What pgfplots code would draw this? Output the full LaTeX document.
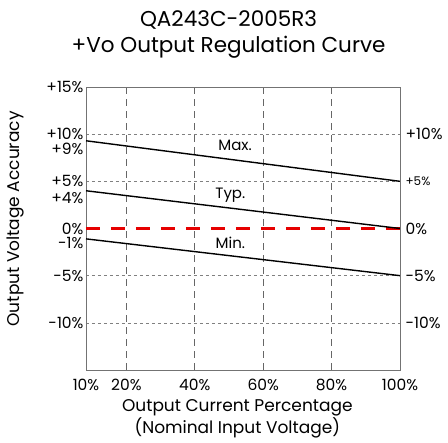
\documentclass[border=0pt]{standalone}
\usepackage{fontspec}
\setmainfont{Poppins}
\usepackage{pgfplots}
\pgfplotsset{compat=1.18}
\definecolor{myred}{RGB}{230,0,0}
\begin{document}
\begin{tikzpicture}
\begin{axis}[
  name=main,
  scale only axis, width=314pt, height=283pt,
  xmin=8.2, xmax=100, ymin=-15, ymax=15,
  axis line style={draw=black!55, line width=0.8pt},
  major tick length=0pt,
  /pgf/number format/assume math mode=true,
  ticklabel style={font=\fontsize{15.5}{17}\selectfont},
  xtick={20,40,60,80}, xticklabels={20\%,40\%,60\%,80\%},
  extra x ticks={8.2,100}, extra x tick labels={10\%,100\%},
  extra x tick style={grid=none},
  xticklabel style={yshift=-6pt},
  ytick={10,5,-5,-10}, yticklabels={+10\%,+5\%,-5\%,-10\%},
  extra y ticks={15,8.4,3.2,0,-1.5}, extra y tick labels={+15\%,+9\%,+4\%,0\%,-1\%},
  extra y tick style={grid=none},
  yticklabel style={xshift=1pt},
  grid=major,
  x grid style={draw=black!60, dash pattern=on 7pt off 5pt, line width=0.6pt},
  y grid style={draw=black!50, dash pattern=on 3pt off 3pt, line width=0.6pt},
  title={QA243C-2005R3\\+Vo Output Regulation Curve},
  title style={align=center, font=\fontsize{21.5}{25.5}\selectfont, at={(axis description cs:0.454,1.165)}, anchor=center},
  xlabel={Output Current Percentage\\(Nominal Input Voltage)},
  xlabel style={align=center, font=\fontsize{17}{20}\selectfont, at={(axis description cs:0.482,-0.172)}, anchor=center},
  ylabel={Output Voltage Accuracy},
  ylabel style={font=\fontsize{17}{20}\selectfont, at={(axis description cs:-0.226,0.534)}, anchor=center},
]
\addplot[draw=myred, line width=2.2pt, dash pattern=on 14pt off 11pt] coordinates {(8.2,0) (100,0)};
\addplot[black, line width=1.4pt] coordinates {(8.2,9.3) (100,5)};
\addplot[black, line width=1.4pt] coordinates {(8.2,4.0) (100,0)};
\addplot[black, line width=1.4pt] coordinates {(8.2,-1.1) (100,-5)};
\node[font=\fontsize{15}{16}\selectfont] at (axis cs:51.8,8.8) {Max.};
\node[font=\fontsize{15}{16}\selectfont] at (axis cs:50.4,3.5) {Typ.};
\node[font=\fontsize{15}{16}\selectfont] at (axis cs:50.4,-1.5) {Min.};
\end{axis}
\begin{axis}[
  scale only axis, width=314pt, height=283pt,
  xmin=8.2, xmax=100, ymin=-15, ymax=15,
  axis x line=none, axis y line*=right,
  axis line style={draw=none},
  major tick length=0pt,
  ticklabel style={font=\fontsize{15.5}{17}\selectfont},
  ytick={10,5,0,-5,-10},
  yticklabels={+10\%,{\fontsize{12}{13}\selectfont+5\%},0\%,-5\%,-10\%},
  yticklabel style={xshift=2pt},
]
\end{axis}
\pgfresetboundingbox
\path (main.south west) ++(-86pt,-73pt) rectangle ++(448pt,443pt);
\end{tikzpicture}
\end{document}
